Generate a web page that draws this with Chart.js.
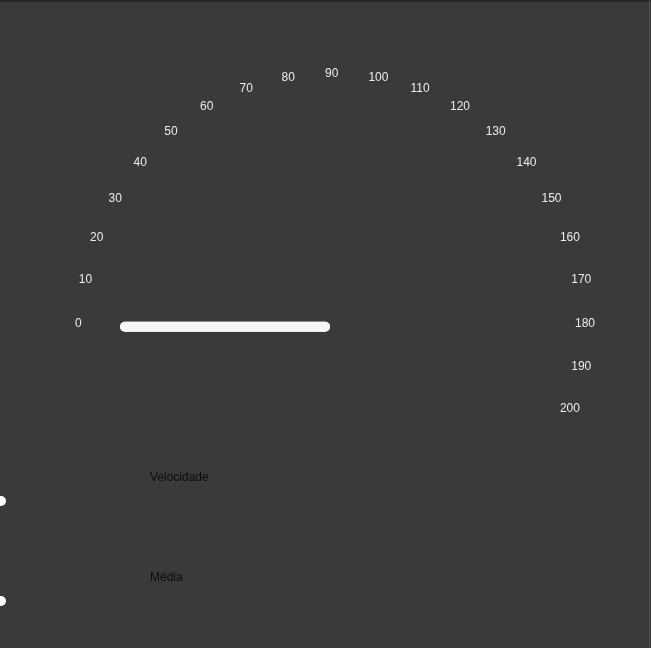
<!DOCTYPE html>
<html>
<head>
<meta charset="utf-8">
<title>Velocímetro</title>
<script src="https://cdn.jsdelivr.net/npm/chart.js@4.4.1/dist/chart.umd.min.js"></script>
<style>
  html, body { margin: 0; padding: 0; }
  body {
    width: 651px;
    height: 648px;
    overflow: hidden;
    position: relative;
    background: #3a3a3a;
    font-family: "Liberation Sans", Arial, sans-serif;
  }
  .top-edge { position: absolute; left: 0; top: 0; width: 651px; height: 2px; background: #1e262c; }
  .right-edge { position: absolute; right: 1px; top: 0; width: 1px; height: 648px; background: #465054; }
  .gauge { position: absolute; left: 0; top: 0; width: 651px; height: 648px; }
  .legend { position: absolute; left: 0; top: 0; margin: 0; padding: 0; list-style: none; }
  .legend__item { position: absolute; left: 0; width: 300px; height: 40px; }
  .legend__dot { position: absolute; left: -4px; top: 26px; width: 10px; height: 10px; border-radius: 50%; background: #fff; }
  .legend__text { position: absolute; left: 150px; top: 0; font-size: 12px; line-height: 14px; color: #0d0d0d; }
</style>
</head>
<body>
<div class="top-edge"></div>
<div class="gauge"><canvas id="gauge-chart"></canvas></div>
<ul class="legend" id="gauge-legend"></ul>
<div class="right-edge"></div>
<script>
const gaugeChart = document.getElementById('gauge-chart')

// escala do velocímetro
const minSpeed = 0
const maxSpeed = 200
const tickValues = [0, 10, 20, 30, 40, 50, 60, 70, 80, 90, 100, 110, 120, 130, 140, 150, 160, 170, 180, 190, 200]
const tickLabels = ['0', '10', '20', '30', '40', '50', '60', '70', '80', '90', '100', '110', '120', '130', '140', '150', '160', '170', '180', '190', '200']

// séries
const seriesNames = ['Velocidade', 'Média']
const seriesValues = [0, 0]

const gaugePlugin = {
  id: 'gauge',
  afterDatasetsDraw(chart) {
    const arcs = chart.getDatasetMeta(0).data
    const first = arcs[0]
    const last = arcs[arcs.length - 1]
    const cx = first.x
    const cy = first.y
    const r = first.outerRadius
    const start = first.startAngle
    const sweep = last.endAngle - start
    const angleOf = v => start + (v - minSpeed) / (maxSpeed - minSpeed) * sweep
    const ctx = chart.ctx

    ctx.save()
    ctx.font = '12px "Liberation Sans", Arial, sans-serif'
    ctx.fillStyle = '#ececec'
    ctx.textAlign = 'left'
    ctx.textBaseline = 'alphabetic'
    tickValues.forEach((v, i) => {
      const a = angleOf(v)
      ctx.fillText(tickLabels[i], cx + r * Math.cos(a), cy + r * Math.sin(a))
    })

    ctx.strokeStyle = '#f7f7f7'
    ctx.lineWidth = 10
    ctx.lineCap = 'round'
    seriesValues.forEach(v => {
      const a = angleOf(v)
      ctx.beginPath()
      ctx.moveTo(cx, cy)
      ctx.lineTo(cx + r * 0.8 * Math.cos(a), cy + r * 0.8 * Math.sin(a))
      ctx.stroke()
    })
    ctx.restore()
  }
}

new Chart(gaugeChart, {
  type: 'doughnut',
  data: {
    labels: [seriesNames[0], ''],
    datasets: [{
      data: [seriesValues[0] - minSpeed, maxSpeed - seriesValues[0]],
      backgroundColor: ['rgba(0,0,0,0)', 'rgba(0,0,0,0)'],
      borderWidth: 0,
    }]
  },
  options: {
    responsive: true,
    maintainAspectRatio: false,
    animation: false,
    events: [],
    rotation: -90,
    circumference: 200,
    radius: 250,
    cutout: '80%',
    layout: {
      padding: { left: 0, right: 1, top: 0, bottom: 159 }
    },
    plugins: {
      legend: { display: false },
      tooltip: { enabled: false }
    }
  },
  plugins: [gaugePlugin]
})

// legenda em html
const legendList = document.getElementById('gauge-legend')
seriesNames.forEach((name, i) => {
  const li = document.createElement('li')
  li.classList.add('legend__item')
  li.style.top = (470 + i * 100) + 'px'

  const dot = document.createElement('span')
  dot.classList.add('legend__dot')

  const text = document.createElement('p')
  text.classList.add('legend__text')
  text.style.margin = 0
  text.appendChild(document.createTextNode(name))

  li.appendChild(dot)
  li.appendChild(text)
  legendList.appendChild(li)
})
</script>
</body>
</html>
